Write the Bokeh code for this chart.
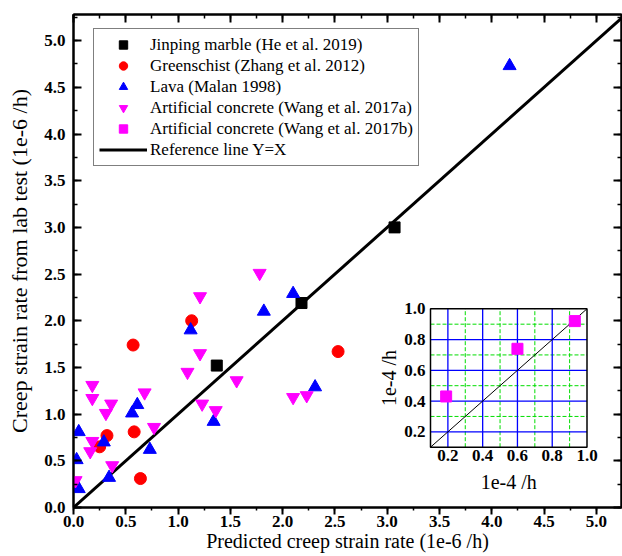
import math
from bokeh.plotting import figure
from bokeh.models import (Range1d, LinearAxis, SingleIntervalTicker, CustomLabelingPolicy,
                          NumeralTickFormatter, Legend, LegendItem)
from bokeh.core.properties import value
from bokeh.embed import file_html
from bokeh.resources import INLINE

# ---------------- data ----------------
jinping_x = [1.37, 2.18, 3.07]
jinping_y = [1.52, 2.19, 3.00]

greenschist_x = [1.13, 0.57, 0.58, 0.32, 0.25, 0.64, 2.53]
greenschist_y = [2.00, 1.74, 0.81, 0.77, 0.65, 0.31, 1.67]

lava_x = [1.82, 1.12, 0.61, 0.56, 1.34, 0.05, 0.29, 0.73, 0.03, 0.34, 0.05, 2.10, 2.31, 4.17]
lava_y = [2.10, 1.90, 1.10, 1.01, 0.92, 0.81, 0.70, 0.62, 0.51, 0.32, 0.20, 2.29, 1.29, 4.73]

wang_a_x = [1.78, 1.21, 1.21, 1.09, 1.56, 0.18, 0.18, 0.68, 0.36, 0.31, 1.23, 1.36,
            0.77, 0.18, 0.16, 0.37, 0.02, 2.10, 2.23]
wang_a_y = [2.51, 2.26, 1.65, 1.45, 1.36, 1.31, 1.17, 1.23, 1.11, 1.01, 1.11, 1.04,
            0.86, 0.71, 0.60, 0.45, 0.29, 1.18, 1.20]

wang_b_x = [0.19, 0.60, 0.93]   # inset, 1e-4 /h
wang_b_y = [0.43, 0.74, 0.92]

ref_line = [0.0, 5.4]

inset_limits = [0.1, 1.0]
inset_major = [0.2, 0.4, 0.6, 0.8]
inset_minor = [0.3, 0.5, 0.7, 0.9]
inset_tick_labels = [0.2, 0.4, 0.6, 0.8, 1.0]

labels = ["Jinping marble (He et al. 2019)",
          "Greenschist (Zhang et al. 2012)",
          "Lava (Malan 1998)",
          "Artificial concrete (Wang et al. 2017a)",
          "Artificial concrete (Wang et al. 2017b)",
          "Reference line Y=X"]

# ---------------- layout ----------------
W, H = 622, 556
B_LEFT, B_RIGHT, B_TOP, B_BOTTOM = 73, 1, 14, 49
FW, FH = W - B_LEFT - B_RIGHT, H - B_TOP - B_BOTTOM
X_END, Y_END = 5.24, 5.28
SERIF = "Liberation Serif"

p = figure(width=W, height=H, x_range=Range1d(0, X_END), y_range=Range1d(0, Y_END),
           output_backend="svg", toolbar_location=None,
           min_border_left=B_LEFT, min_border_right=B_RIGHT,
           min_border_top=B_TOP, min_border_bottom=B_BOTTOM,
           x_axis_label="Predicted creep strain rate (1e-6 /h)",
           y_axis_label="Creep strain rate from lab test (1e-6 /h)")
p.grid.visible = False
p.outline_line_color = "black"
p.outline_line_width = 2
p.background_fill_color = "white"
p.border_fill_color = "white"


def style_axis(ax, tin, tout, title_size="20px", label_size="17px"):
    ax.ticker = SingleIntervalTicker(interval=0.5, num_minor_ticks=2)
    ax.formatter = NumeralTickFormatter(format="0.0")
    ax.axis_line_width = 2
    ax.axis_line_color = "black"
    ax.major_tick_line_width = 2
    ax.minor_tick_line_width = 1.5
    ax.major_tick_in = tin
    ax.major_tick_out = tout
    ax.minor_tick_in = tin // 2
    ax.minor_tick_out = tout // 2
    ax.major_label_text_font = SERIF
    ax.major_label_text_font_style = "bold"
    ax.major_label_text_font_size = label_size
    ax.major_label_text_color = "black"
    ax.axis_label_text_font = SERIF
    ax.axis_label_text_font_style = "normal"
    ax.axis_label_text_font_size = title_size
    ax.axis_label_text_color = "black"


style_axis(p.xaxis[0], 0, 7, "20px")
p.xaxis[0].major_label_standoff = 1
p.xaxis[0].axis_label_standoff = 0
style_axis(p.yaxis[0], 8, 0, "22px")
p.yaxis[0].major_label_standoff = 8
p.yaxis[0].axis_label_standoff = 9

# mirrored frame axes: ticks only (labels sized 0 and filtered out)
for side in ("above", "right"):
    ax = LinearAxis()
    style_axis(ax, 8, 0, label_size="0px")
    ax.major_label_policy = CustomLabelingPolicy(
        code="for (let i = 0; i < indices.size; i++) { indices.unset(i) } return indices")
    ax.major_label_standoff = 0
    p.add_layout(ax, side)

# ---------------- main data ----------------
r_line = p.line(ref_line, ref_line, line_color="black", line_width=3)
r_j = p.scatter(jinping_x, jinping_y, marker="square", size=11, fill_color="black", line_color="black")
r_g = p.scatter(greenschist_x, greenschist_y, marker="circle", size=12, fill_color="red", line_color="red")
r_l = p.scatter(lava_x, lava_y, marker="triangle", size=13, fill_color="blue", line_color="blue")
r_a = p.scatter(wang_a_x, wang_a_y, marker="inverted_triangle", size=13, fill_color="magenta", line_color="magenta")

# ---------------- inset (own scales via extra ranges) ----------------
IN_L, IN_R = 430 - B_LEFT, 586.5 - B_LEFT          # px from frame left
IN_B, IN_T = (B_TOP + FH) - 446.7, (B_TOP + FH) - 308.3  # px from frame bottom
lo, hi = inset_limits
sx = (hi - lo) / (IN_R - IN_L)
sy = (hi - lo) / (IN_T - IN_B)
p.extra_x_ranges = {"ix": Range1d(lo - IN_L * sx, lo + (FW - IN_L) * sx)}
p.extra_y_ranges = {"iy": Range1d(lo - IN_B * sy, lo + (FH - IN_B) * sy)}
kw = dict(x_range_name="ix", y_range_name="iy")

p.quad(left=[lo], right=[hi], bottom=[lo], top=[hi], fill_color="white",
       line_color=None, **kw)
n_min = len(inset_minor)
p.segment(x0=inset_minor, y0=[lo] * n_min, x1=inset_minor, y1=[hi] * n_min,
          line_color="#00DD00", line_width=1, line_dash="4 2", **kw)
p.segment(x0=[lo] * n_min, y0=inset_minor, x1=[hi] * n_min, y1=inset_minor,
          line_color="#00DD00", line_width=1, line_dash="4 2", **kw)
n_maj = len(inset_major)
p.segment(x0=inset_major, y0=[lo] * n_maj, x1=inset_major, y1=[hi] * n_maj,
          line_color="#0000FF", line_width=1.3, **kw)
p.segment(x0=[lo] * n_maj, y0=inset_major, x1=[hi] * n_maj, y1=inset_major,
          line_color="#0000FF", line_width=1.3, **kw)
p.line(inset_limits, inset_limits, line_color="black", line_width=1, **kw)
r_b = p.scatter(wang_b_x, wang_b_y, marker="square", size=11, fill_color="magenta",
                line_color="magenta", **kw)
p.quad(left=[lo], right=[hi], bottom=[lo], top=[hi], fill_color=None,
       line_color="black", line_width=1.5, **kw)

tl = [f"{v:.1f}" for v in inset_tick_labels]
nt = len(inset_tick_labels)
p.text(x=inset_tick_labels, y=[lo] * nt, text=tl, text_align="center", text_baseline="top",
       y_offset=3, text_font=value(SERIF), text_font_style="bold", text_font_size="17px",
       text_color="black", **kw)
p.text(x=[lo] * nt, y=inset_tick_labels, text=tl, text_align="right", text_baseline="middle",
       x_offset=-5, text_font=value(SERIF), text_font_style="bold", text_font_size="17px",
       text_color="black", **kw)
mid = (lo + hi) / 2
p.text(x=[mid], y=[lo], text=["1e-4 /h"], text_align="center", text_baseline="middle",
       y_offset=35, text_font=value(SERIF), text_font_size="20px", text_color="black", **kw)
p.text(x=[lo], y=[mid], text=["1e-4 /h"], text_align="center", text_baseline="middle",
       x_offset=-42, angle=math.pi / 2, text_font=value(SERIF), text_font_size="20px",
       text_color="black", **kw)

# ---------------- legend ----------------
legend = Legend(items=[LegendItem(label=labels[0], renderers=[r_j]),
                       LegendItem(label=labels[1], renderers=[r_g]),
                       LegendItem(label=labels[2], renderers=[r_l]),
                       LegendItem(label=labels[3], renderers=[r_a]),
                       LegendItem(label=labels[4], renderers=[r_b]),
                       LegendItem(label=labels[5], renderers=[r_line])],
                location=(20, 341))
legend.label_text_font = SERIF
legend.label_text_font_size = "17px"
legend.label_text_color = "black"
legend.label_height = 21
legend.glyph_height = 21
legend.glyph_width = 48
legend.label_standoff = 3
legend.spacing = 0
legend.padding = 5
legend.margin = 0
legend.border_line_color = "black"
legend.border_line_width = 1.5
legend.background_fill_color = "white"
legend.background_fill_alpha = 1
p.add_layout(legend)

open("out.html", "w").write(file_html(p, INLINE))
